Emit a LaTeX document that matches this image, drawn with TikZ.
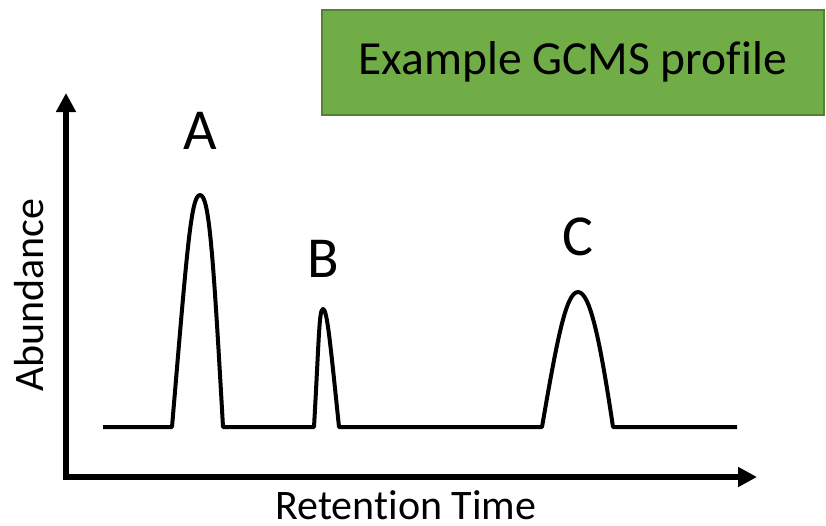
\documentclass[tikz,border=0pt]{standalone}
\usepackage{fontspec}
\setmainfont[Ligatures=NoCommon]{Carlito}
\usetikzlibrary{arrows.meta}
\definecolor{boxgreen}{HTML}{70AD47}
\definecolor{boxedge}{HTML}{548235}
\tikzset{
  axis/.style={line width=6pt, line join=miter, {Triangle[length=19pt,width=19pt]}-{Triangle[length=19pt,width=19pt]}},
  trace/.style={line width=4pt, line join=round},
  peaklabel/.style={font=\fontsize{58}{62}\selectfont, inner sep=0pt},
  axlabel/.style={font=\fontsize{42}{48}\selectfont, inner sep=0pt},
}
\begin{document}
\begin{tikzpicture}[x=1pt,y=-1pt]
\useasboundingbox (0,0) rectangle (826,525);
% title box
\node[draw=boxedge, line width=1.5pt, fill=boxgreen, minimum width=502pt, minimum height=105pt, anchor=north west, inner sep=0pt,
  font=\fontsize{47.5}{52}\selectfont] (title) at (321,9) {Example GCMS profile};
% axes
\coordinate (ytop) at (66,93);
\coordinate (origin) at (66,477);
\coordinate (xend) at (757,477);
\draw[axis] (ytop) -- (origin) -- (xend);
% trace
\coordinate (s) at (103,427);
\coordinate (e) at (737,427);
\draw[trace] (s) -- (172,427)
  .. controls (187,250) and (191,195) .. (200,195)
  .. controls (209,195) and (213,250) .. (223,427)
  -- (314,427)
  .. controls (319,340) and (319,309) .. (323,309)
  .. controls (327,309) and (330,340) .. (339,427)
  -- (542,427)
  .. controls (557,340) and (566,292) .. (578,292)
  .. controls (590,292) and (600,340) .. (613,427)
  -- (e);
% labels
\node[peaklabel] (A) at (200,131) {A};
\node[peaklabel] (B) at (323,259) {B};
\node[peaklabel] (C) at (578,237) {C};
\node[axlabel, rotate=90, anchor=base] (ylab) at (43,295) {Abundance};
\node[axlabel, anchor=base] (xlab) at (406,519) {Retention Time};
\end{tikzpicture}
\end{document}
